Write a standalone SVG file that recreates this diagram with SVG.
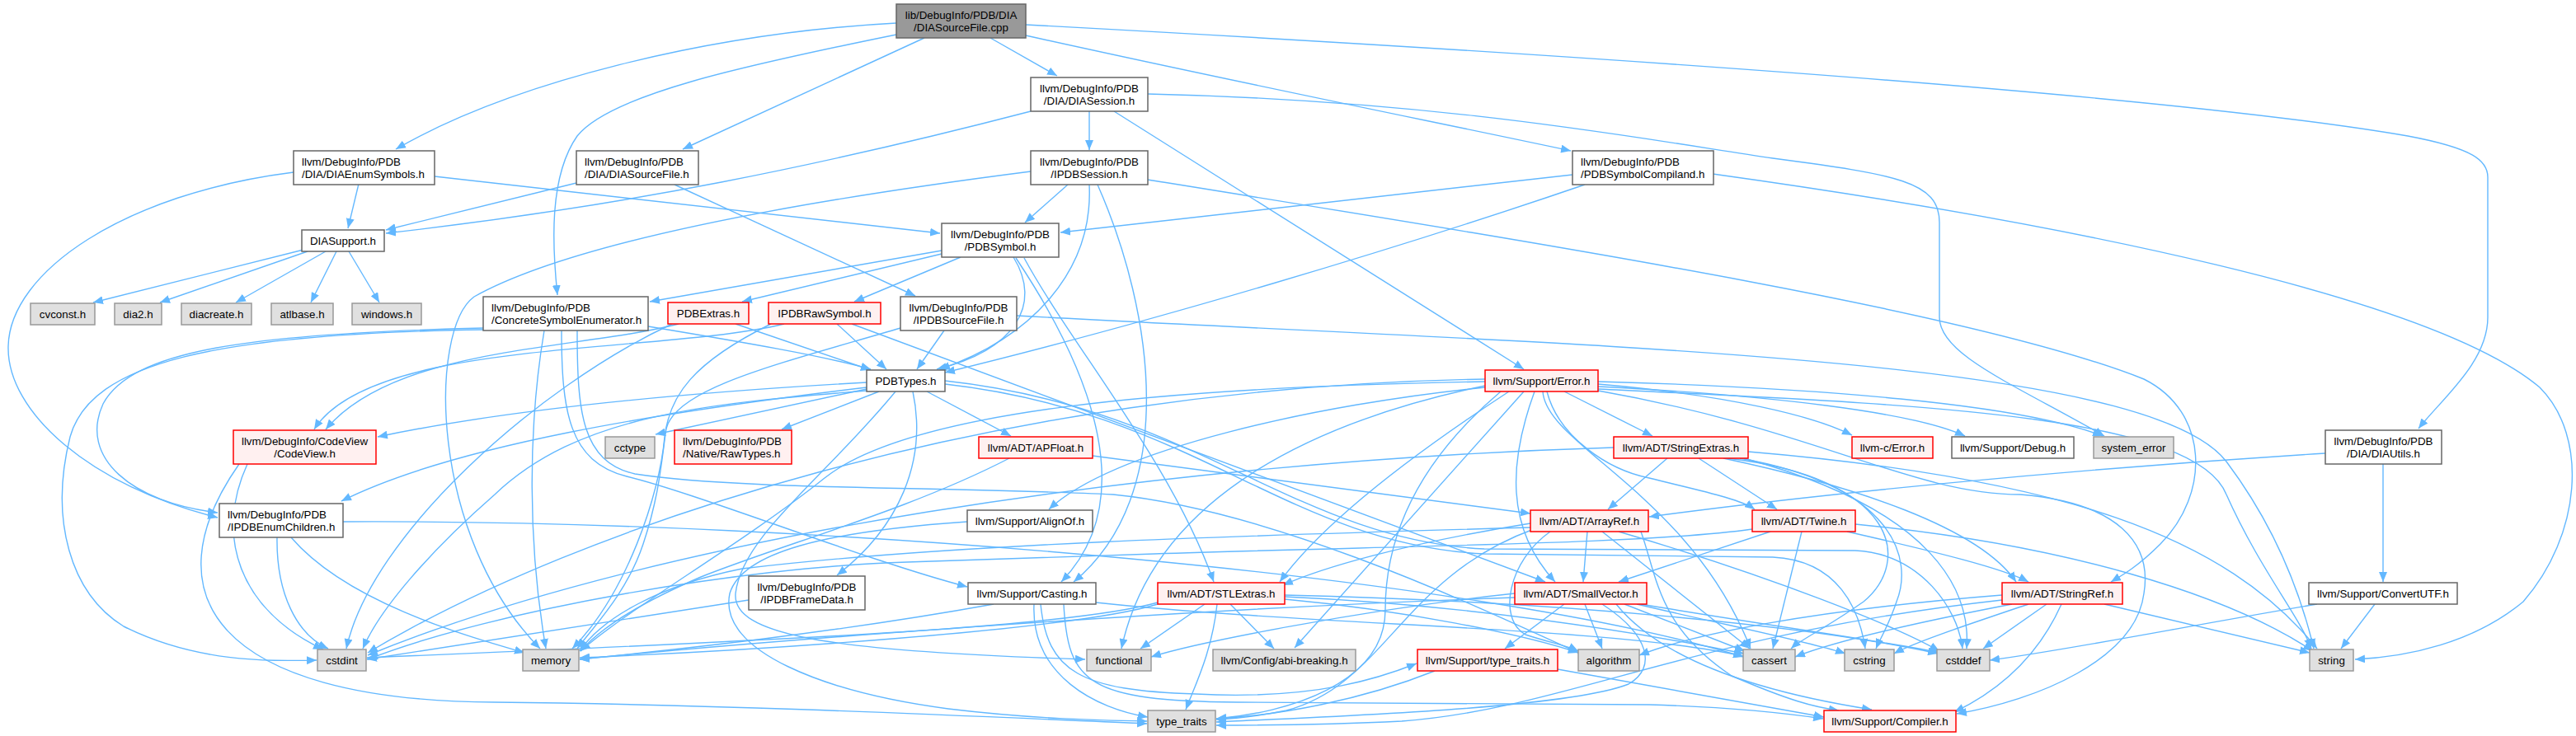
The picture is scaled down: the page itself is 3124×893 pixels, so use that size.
<svg xmlns="http://www.w3.org/2000/svg" width="3124" height="893" viewBox="0 0 3124 893">
<defs>
<style>
.e{fill:none;stroke:#63b8ff;stroke-width:1.4;marker-end:url(#a)}
.w rect{fill:#fff;stroke:#666;stroke-width:1.5}
.g rect{fill:#e0e0e0;stroke:#999;stroke-width:1.5}
.r rect{fill:#fff0f0;stroke:#f00;stroke-width:1.5}
.root rect{fill:#999;stroke:#666;stroke-width:1.5}
text{font-family:"Liberation Sans",Arial,Helvetica,sans-serif;font-size:13.33px;fill:#000}
.c{text-anchor:middle}
</style>
<marker id="a" markerWidth="12" markerHeight="10" refX="12" refY="5" orient="auto" markerUnits="userSpaceOnUse"><path d="M0,0L12,5L0,10z" fill="#63b8ff"/></marker>
</defs>
<rect width="3124" height="893" fill="#fff"/>
<g id="edges">
<path class="e" d="M1087,28 C860,40 620,100 480,181"/>
<path class="e" d="M1087,42 C900,80 740,115 700,165 C665,215 670,300 676,358"/>
<path class="e" d="M1121,46 L828,181"/>
<path class="e" d="M1201,46 L1282,92"/>
<path class="e" d="M1244,43 C1500,100 1750,150 1905,183"/>
<path class="e" d="M1244,30 C1800,60 2600,110 2920,165 C3000,180 3017,195 3017,215 L3017,385 C3017,440 2960,485 2933,520"/>
<path class="e" d="M435,223 L422,277"/>
<path class="e" d="M356,209 C150,235 12,330 10,420 C8,500 110,590 264,628"/>
<path class="e" d="M527,214 L1140,283"/>
<path class="e" d="M368,303 L113,367"/>
<path class="e" d="M373,305 L194,367"/>
<path class="e" d="M395,305 L286,367"/>
<path class="e" d="M408,305 L377,367"/>
<path class="e" d="M423,305 L460,367"/>
<path class="e" d="M1250,135 C1000,200 760,250 468,283"/>
<path class="e" d="M1321,135 L1321,182"/>
<path class="e" d="M1351,135 L1848,448"/>
<path class="e" d="M1392,114 C1750,122 2000,170 2150,192 C2300,212 2352,220 2352,270 L2352,385 C2352,430 2440,465 2552,529"/>
<path class="e" d="M699,222 L468,279"/>
<path class="e" d="M818,224 L1110,359"/>
<path class="e" d="M1295,224 L1243,270"/>
<path class="e" d="M1321,224 C1326,330 1250,410 1140,448"/>
<path class="e" d="M1331,224 C1400,380 1430,600 1302,706"/>
<path class="e" d="M1250,208 C1000,240 700,290 575,360 C520,400 520,650 655,787"/>
<path class="e" d="M1392,218 C1900,300 2400,380 2600,460 C2680,500 2680,600 2620,660 C2590,690 2570,700 2560,706"/>
<path class="e" d="M1142,304 L788,366"/>
<path class="e" d="M1142,308 L900,366"/>
<path class="e" d="M1165,312 L1036,366"/>
<path class="e" d="M1229,312 C1265,370 1230,425 1136,448"/>
<path class="e" d="M1232,313 C1330,460 1380,610 1287,706"/>
<path class="e" d="M1242,313 C1300,420 1420,560 1472,706"/>
<path class="e" d="M786,396 C900,415 1000,432 1056,448"/>
<path class="e" d="M586,398 C300,405 160,425 125,490 C95,555 160,610 264,622"/>
<path class="e" d="M586,400 C260,405 110,440 85,530 C60,630 85,720 150,760 C240,805 330,802 384,801"/>
<path class="e" d="M681,401 C681,500 690,560 760,578 C850,600 1050,680 1173,712"/>
<path class="e" d="M660,401 C640,520 640,660 662,787"/>
<path class="e" d="M700,401 C700,500 705,560 770,575 C900,595 1150,590 1350,600 C1550,620 1800,740 1914,792"/>
<path class="e" d="M892,393 L1056,449"/>
<path class="e" d="M823,393 C700,425 480,420 395,521"/>
<path class="e" d="M815,393 C650,470 450,650 420,787"/>
<path class="e" d="M1015,393 L1075,448"/>
<path class="e" d="M951,393 C800,430 450,410 381,521"/>
<path class="e" d="M1033,393 L1874,706"/>
<path class="e" d="M935,393 C840,440 812,480 806,530 C800,600 760,720 694,787"/>
<path class="e" d="M1145,401 L1112,448"/>
<path class="e" d="M1092,398 C950,440 820,470 808,520 C802,560 800,600 780,660 C760,720 720,760 700,787"/>
<path class="e" d="M1233,383 C1900,420 2600,430 2700,560 C2760,640 2790,720 2806,787"/>
<path class="e" d="M1907,212 L1286,282"/>
<path class="e" d="M1922,224 C1700,300 1400,390 1146,452"/>
<path class="e" d="M2077,211 C2500,270 2950,360 3080,470 C3140,530 3130,650 3060,730 C3000,780 2920,797 2856,800"/>
<path class="e" d="M1051,464 C800,478 600,500 458,530"/>
<path class="e" d="M1051,470 C800,500 550,540 414,608"/>
<path class="e" d="M1051,472 L795,527"/>
<path class="e" d="M1066,475 L948,521"/>
<path class="e" d="M1107,475 C1125,560 1090,640 1015,698"/>
<path class="e" d="M1124,475 L1226,529"/>
<path class="e" d="M1086,475 C1000,580 900,650 892,720 C888,770 1000,790 1316,800"/>
<path class="e" d="M1051,474 C850,490 700,505 600,600 C520,670 460,740 440,787"/>
<path class="e" d="M1146,462 C1450,495 1570,655 1800,666 L2250,668 C2330,672 2375,740 2380,787"/>
<path class="e" d="M1146,466 C1450,500 1560,660 1800,672 L2150,676 C2230,680 2255,740 2262,787"/>
<path class="e" d="M1325,553 L1856,623"/>
<path class="e" d="M1224,556 C1100,620 950,660 850,700 C780,730 730,760 704,790"/>
<path class="e" d="M1173,633 C1000,645 900,670 885,720 C870,790 1000,840 1150,860 C1250,872 1330,874 1391,875"/>
<path class="e" d="M908,728 C700,760 500,790 445,800"/>
<path class="e" d="M1254,733 C1250,820 1330,860 1392,870"/>
<path class="e" d="M1262,733 C1270,815 1310,838 1450,842 C1600,850 1680,820 1718,805"/>
<path class="e" d="M1329,731 C1600,760 1950,760 2114,796"/>
<path class="e" d="M1205,733 C1000,770 800,790 703,800"/>
<path class="e" d="M1290,733 C1295,830 1320,850 1500,852 L2000,855 C2100,858 2170,866 2211,872"/>
<path class="e" d="M1492,733 L1545,787"/>
<path class="e" d="M1461,733 L1383,787"/>
<path class="e" d="M1476,733 C1470,790 1450,830 1438,861"/>
<path class="e" d="M1558,727 C1700,740 1850,770 1914,792"/>
<path class="e" d="M1558,724 C1800,735 2000,770 2115,793"/>
<path class="e" d="M1404,731 C1300,760 1000,775 445,798"/>
<path class="e" d="M1404,733 C1300,765 900,790 703,798"/>
<path class="e" d="M1558,722 C1900,730 2200,760 2350,793"/>
<path class="e" d="M1848,475 L1570,786"/>
<path class="e" d="M1861,475 C1830,560 1825,640 1886,706"/>
<path class="e" d="M1897,475 L2004,529"/>
<path class="e" d="M1876,475 C1890,530 1950,570 2000,580 C2060,595 2110,605 2128,618"/>
<path class="e" d="M1871,475 C1875,540 2050,600 2123,787"/>
<path class="e" d="M1830,475 C1700,560 1600,640 1552,706"/>
<path class="e" d="M1938,466 C2100,480 2200,505 2246,528"/>
<path class="e" d="M1938,469 C2150,480 2320,500 2383,529"/>
<path class="e" d="M1938,463 C2200,470 2450,490 2550,529"/>
<path class="e" d="M1938,472 C2300,490 2660,500 2700,600 C2740,690 2790,750 2803,787"/>
<path class="e" d="M1938,474 C2200,520 2320,600 2450,600 C2570,610 2610,660 2600,720 C2590,800 2470,850 2373,866"/>
<path class="e" d="M1801,470 C1600,490 1350,545 1272,618"/>
<path class="e" d="M1801,460 C1200,470 700,640 446,792"/>
<path class="e" d="M1801,463 C1400,470 1100,500 1000,580 C900,660 760,740 704,790"/>
<path class="e" d="M1801,468 C1600,510 1400,600 1360,787"/>
<path class="e" d="M1820,475 C1720,560 1680,650 1680,740 C1680,830 1560,865 1475,872"/>
<path class="e" d="M2022,556 L1950,618"/>
<path class="e" d="M2060,556 L2155,618"/>
<path class="e" d="M2090,556 C2250,590 2400,640 2445,706"/>
<path class="e" d="M2095,556 C2300,580 2320,680 2260,730 C2210,765 2185,775 2172,787"/>
<path class="e" d="M2110,556 C2300,590 2320,680 2300,730 C2290,760 2280,775 2275,787"/>
<path class="e" d="M2115,556 C2350,620 2390,720 2385,787"/>
<path class="e" d="M2120,548 C2500,580 2700,650 2810,787"/>
<path class="e" d="M1957,543 C1400,560 800,650 446,795"/>
<path class="e" d="M2147,645 L1963,706"/>
<path class="e" d="M2240,645 C2350,670 2430,690 2460,706"/>
<path class="e" d="M2185,645 L2150,787"/>
<path class="e" d="M2250,636 C2500,660 2700,720 2805,790"/>
<path class="e" d="M2125,642 C2000,660 1700,662 1400,672 L1100,682 C900,688 600,740 446,800"/>
<path class="e" d="M1925,645 L1920,706"/>
<path class="e" d="M1856,635 C1700,660 1600,690 1556,710"/>
<path class="e" d="M1880,645 C1830,680 1815,750 1850,770 C1880,780 1900,783 1914,790"/>
<path class="e" d="M1943,645 L2122,787"/>
<path class="e" d="M1963,645 C2150,700 2300,760 2352,790"/>
<path class="e" d="M1990,645 C2010,700 2010,760 2100,820 C2170,850 2200,858 2230,862"/>
<path class="e" d="M1856,640 C1500,650 1150,660 900,690 C800,710 730,750 703,790"/>
<path class="e" d="M1860,642 C1700,700 1680,830 1560,862 C1520,870 1500,872 1475,873"/>
<path class="e" d="M1960,733 C2030,820 2200,850 2270,861"/>
<path class="e" d="M1897,733 L1825,787"/>
<path class="e" d="M1922,733 L1943,787"/>
<path class="e" d="M1970,733 L2116,790"/>
<path class="e" d="M1990,733 C2150,760 2300,780 2352,792"/>
<path class="e" d="M1985,733 C2100,760 2200,780 2238,793"/>
<path class="e" d="M1837,720 C1650,740 1450,780 1396,797"/>
<path class="e" d="M1837,725 C1400,740 900,780 703,800"/>
<path class="e" d="M1943,733 C2000,770 2010,810 1975,830 C1900,860 1600,870 1475,876"/>
<path class="e" d="M1889,812 L2212,870"/>
<path class="e" d="M1740,814 C1650,850 1550,868 1475,872"/>
<path class="e" d="M2500,733 C2470,800 2420,840 2370,864"/>
<path class="e" d="M2428,728 C2050,770 1900,860 1700,875 C1600,880 1520,880 1475,880"/>
<path class="e" d="M2428,722 C2200,740 2050,770 1988,795"/>
<path class="e" d="M2440,733 C2300,760 2220,780 2177,797"/>
<path class="e" d="M2482,733 L2405,787"/>
<path class="e" d="M2460,733 C2380,760 2320,780 2297,793"/>
<path class="e" d="M2552,733 L2801,792"/>
<path class="e" d="M2820,550 C2500,570 2200,600 2000,627"/>
<path class="e" d="M2890,563 L2890,706"/>
<path class="e" d="M2810,733 C2650,760 2500,790 2413,801"/>
<path class="e" d="M2880,733 L2839,787"/>
<path class="e" d="M336,652 C335,720 360,770 398,787"/>
<path class="e" d="M353,652 C420,730 560,770 636,792"/>
<path class="e" d="M416,633 C1000,630 1800,700 2114,797"/>
<path class="e" d="M300,563 C260,650 290,740 392,788"/>
<path class="e" d="M290,563 C180,720 260,850 600,852 C900,855 1200,870 1391,878"/>
</g>
<g id="n0" class="root"><rect x="1087" y="5" width="157" height="41"/><text class="c" x="1165.5" y="23">lib/DebugInfo/PDB/DIA</text><text class="c" x="1165.5" y="38">/DIASourceFile.cpp</text></g>
<g id="n1" class="w"><rect x="356" y="183" width="171" height="41"/><text x="366" y="201">llvm/DebugInfo/PDB</text><text x="366" y="216">/DIA/DIAEnumSymbols.h</text></g>
<g id="n2" class="w"><rect x="366" y="279" width="100" height="26"/><text class="c" x="416" y="296.5">DIASupport.h</text></g>
<g id="n3" class="w"><rect x="699" y="183" width="148" height="41"/><text x="709" y="201">llvm/DebugInfo/PDB</text><text x="709" y="216">/DIA/DIASourceFile.h</text></g>
<g id="n4" class="w"><rect x="1250" y="94" width="142" height="41"/><text class="c" x="1321" y="112">llvm/DebugInfo/PDB</text><text class="c" x="1321" y="127">/DIA/DIASession.h</text></g>
<g id="n5" class="w"><rect x="1250" y="183" width="142" height="41"/><text class="c" x="1321" y="201">llvm/DebugInfo/PDB</text><text class="c" x="1321" y="216">/IPDBSession.h</text></g>
<g id="n6" class="w"><rect x="1142" y="271" width="142" height="41"/><text class="c" x="1213" y="289">llvm/DebugInfo/PDB</text><text class="c" x="1213" y="304">/PDBSymbol.h</text></g>
<g id="n7" class="w"><rect x="1907" y="183" width="171" height="41"/><text x="1917" y="201">llvm/DebugInfo/PDB</text><text x="1917" y="216">/PDBSymbolCompiland.h</text></g>
<g id="n8" class="w"><rect x="2820" y="522" width="141" height="41"/><text class="c" x="2890.5" y="540">llvm/DebugInfo/PDB</text><text class="c" x="2890.5" y="555">/DIA/DIAUtils.h</text></g>
<g id="n9" class="w"><rect x="586" y="360" width="200" height="41"/><text x="596" y="378">llvm/DebugInfo/PDB</text><text x="596" y="393">/ConcreteSymbolEnumerator.h</text></g>
<g id="n10" class="w"><rect x="1092" y="360" width="141" height="41"/><text class="c" x="1162.5" y="378">llvm/DebugInfo/PDB</text><text class="c" x="1162.5" y="393">/IPDBSourceFile.h</text></g>
<g id="n11" class="g"><rect x="37" y="368" width="78" height="26"/><text class="c" x="76" y="385.5">cvconst.h</text></g>
<g id="n12" class="g"><rect x="139" y="368" width="57" height="26"/><text class="c" x="167.5" y="385.5">dia2.h</text></g>
<g id="n13" class="g"><rect x="220" y="368" width="85" height="26"/><text class="c" x="262.5" y="385.5">diacreate.h</text></g>
<g id="n14" class="g"><rect x="329" y="368" width="75" height="26"/><text class="c" x="366.5" y="385.5">atlbase.h</text></g>
<g id="n15" class="g"><rect x="427" y="368" width="84" height="26"/><text class="c" x="469" y="385.5">windows.h</text></g>
<g id="n16" class="r"><rect x="810" y="367" width="98" height="26"/><text class="c" x="859" y="384.5">PDBExtras.h</text></g>
<g id="n17" class="r"><rect x="932" y="367" width="136" height="26"/><text class="c" x="1000" y="384.5">IPDBRawSymbol.h</text></g>
<g id="n18" class="w"><rect x="1051" y="449" width="95" height="26"/><text class="c" x="1098.5" y="466.5">PDBTypes.h</text></g>
<g id="n19" class="r"><rect x="283" y="522" width="173" height="41"/><text class="c" x="369.5" y="540">llvm/DebugInfo/CodeView</text><text class="c" x="369.5" y="555">/CodeView.h</text></g>
<g id="n20" class="g"><rect x="734" y="530" width="60" height="26"/><text class="c" x="764" y="547.5">cctype</text></g>
<g id="n21" class="r"><rect x="818" y="522" width="142" height="41"/><text x="828" y="540">llvm/DebugInfo/PDB</text><text x="828" y="555">/Native/RawTypes.h</text></g>
<g id="n22" class="r"><rect x="1187" y="530" width="138" height="26"/><text class="c" x="1256" y="547.5">llvm/ADT/APFloat.h</text></g>
<g id="n23" class="w"><rect x="1173" y="619" width="152" height="26"/><text class="c" x="1249" y="636.5">llvm/Support/AlignOf.h</text></g>
<g id="n24" class="w"><rect x="266" y="611" width="150" height="41"/><text x="276" y="629">llvm/DebugInfo/PDB</text><text x="276" y="644">/IPDBEnumChildren.h</text></g>
<g id="n25" class="w"><rect x="908" y="699" width="141" height="41"/><text class="c" x="978.5" y="717">llvm/DebugInfo/PDB</text><text class="c" x="978.5" y="732">/IPDBFrameData.h</text></g>
<g id="n26" class="w"><rect x="1174" y="707" width="155" height="26"/><text class="c" x="1251.5" y="724.5">llvm/Support/Casting.h</text></g>
<g id="n27" class="r"><rect x="1404" y="707" width="154" height="26"/><text class="c" x="1481" y="724.5">llvm/ADT/STLExtras.h</text></g>
<g id="n28" class="g"><rect x="385" y="788" width="59" height="26"/><text class="c" x="414.5" y="805.5">cstdint</text></g>
<g id="n29" class="g"><rect x="634" y="788" width="68" height="26"/><text class="c" x="668" y="805.5">memory</text></g>
<g id="n30" class="g"><rect x="1318" y="788" width="78" height="26"/><text class="c" x="1357" y="805.5">functional</text></g>
<g id="n31" class="g"><rect x="1471" y="788" width="173" height="26"/><text class="c" x="1557.5" y="805.5">llvm/Config/abi-breaking.h</text></g>
<g id="n32" class="g"><rect x="1392" y="862" width="82" height="26"/><text class="c" x="1433" y="879.5">type_traits</text></g>
<g id="n33" class="r"><rect x="1801" y="449" width="137" height="26"/><text class="c" x="1869.5" y="466.5">llvm/Support/Error.h</text></g>
<g id="n34" class="r"><rect x="1957" y="530" width="163" height="26"/><text class="c" x="2038.5" y="547.5">llvm/ADT/StringExtras.h</text></g>
<g id="n35" class="r"><rect x="2246" y="530" width="98" height="26"/><text class="c" x="2295" y="547.5">llvm-c/Error.h</text></g>
<g id="n36" class="w"><rect x="2367" y="530" width="148" height="26"/><text class="c" x="2441" y="547.5">llvm/Support/Debug.h</text></g>
<g id="n37" class="g"><rect x="2539" y="530" width="97" height="26"/><text class="c" x="2587.5" y="547.5">system_error</text></g>
<g id="n38" class="r"><rect x="1856" y="619" width="143" height="26"/><text class="c" x="1927.5" y="636.5">llvm/ADT/ArrayRef.h</text></g>
<g id="n39" class="r"><rect x="2125" y="619" width="125" height="26"/><text class="c" x="2187.5" y="636.5">llvm/ADT/Twine.h</text></g>
<g id="n40" class="r"><rect x="1837" y="707" width="160" height="26"/><text class="c" x="1917" y="724.5">llvm/ADT/SmallVector.h</text></g>
<g id="n41" class="r"><rect x="1719" y="788" width="170" height="26"/><text class="c" x="1804" y="805.5">llvm/Support/type_traits.h</text></g>
<g id="n42" class="g"><rect x="1914" y="788" width="74" height="26"/><text class="c" x="1951" y="805.5">algorithm</text></g>
<g id="n43" class="g"><rect x="2114" y="788" width="63" height="26"/><text class="c" x="2145.5" y="805.5">cassert</text></g>
<g id="n44" class="g"><rect x="2237" y="788" width="60" height="26"/><text class="c" x="2267" y="805.5">cstring</text></g>
<g id="n45" class="g"><rect x="2349" y="788" width="64" height="26"/><text class="c" x="2381" y="805.5">cstddef</text></g>
<g id="n46" class="g"><rect x="2801" y="788" width="53" height="26"/><text class="c" x="2827.5" y="805.5">string</text></g>
<g id="n47" class="r"><rect x="2428" y="707" width="146" height="26"/><text class="c" x="2501" y="724.5">llvm/ADT/StringRef.h</text></g>
<g id="n48" class="w"><rect x="2800" y="707" width="180" height="26"/><text class="c" x="2890" y="724.5">llvm/Support/ConvertUTF.h</text></g>
<g id="n49" class="r"><rect x="2212" y="862" width="160" height="26"/><text class="c" x="2292" y="879.5">llvm/Support/Compiler.h</text></g>
</svg>
